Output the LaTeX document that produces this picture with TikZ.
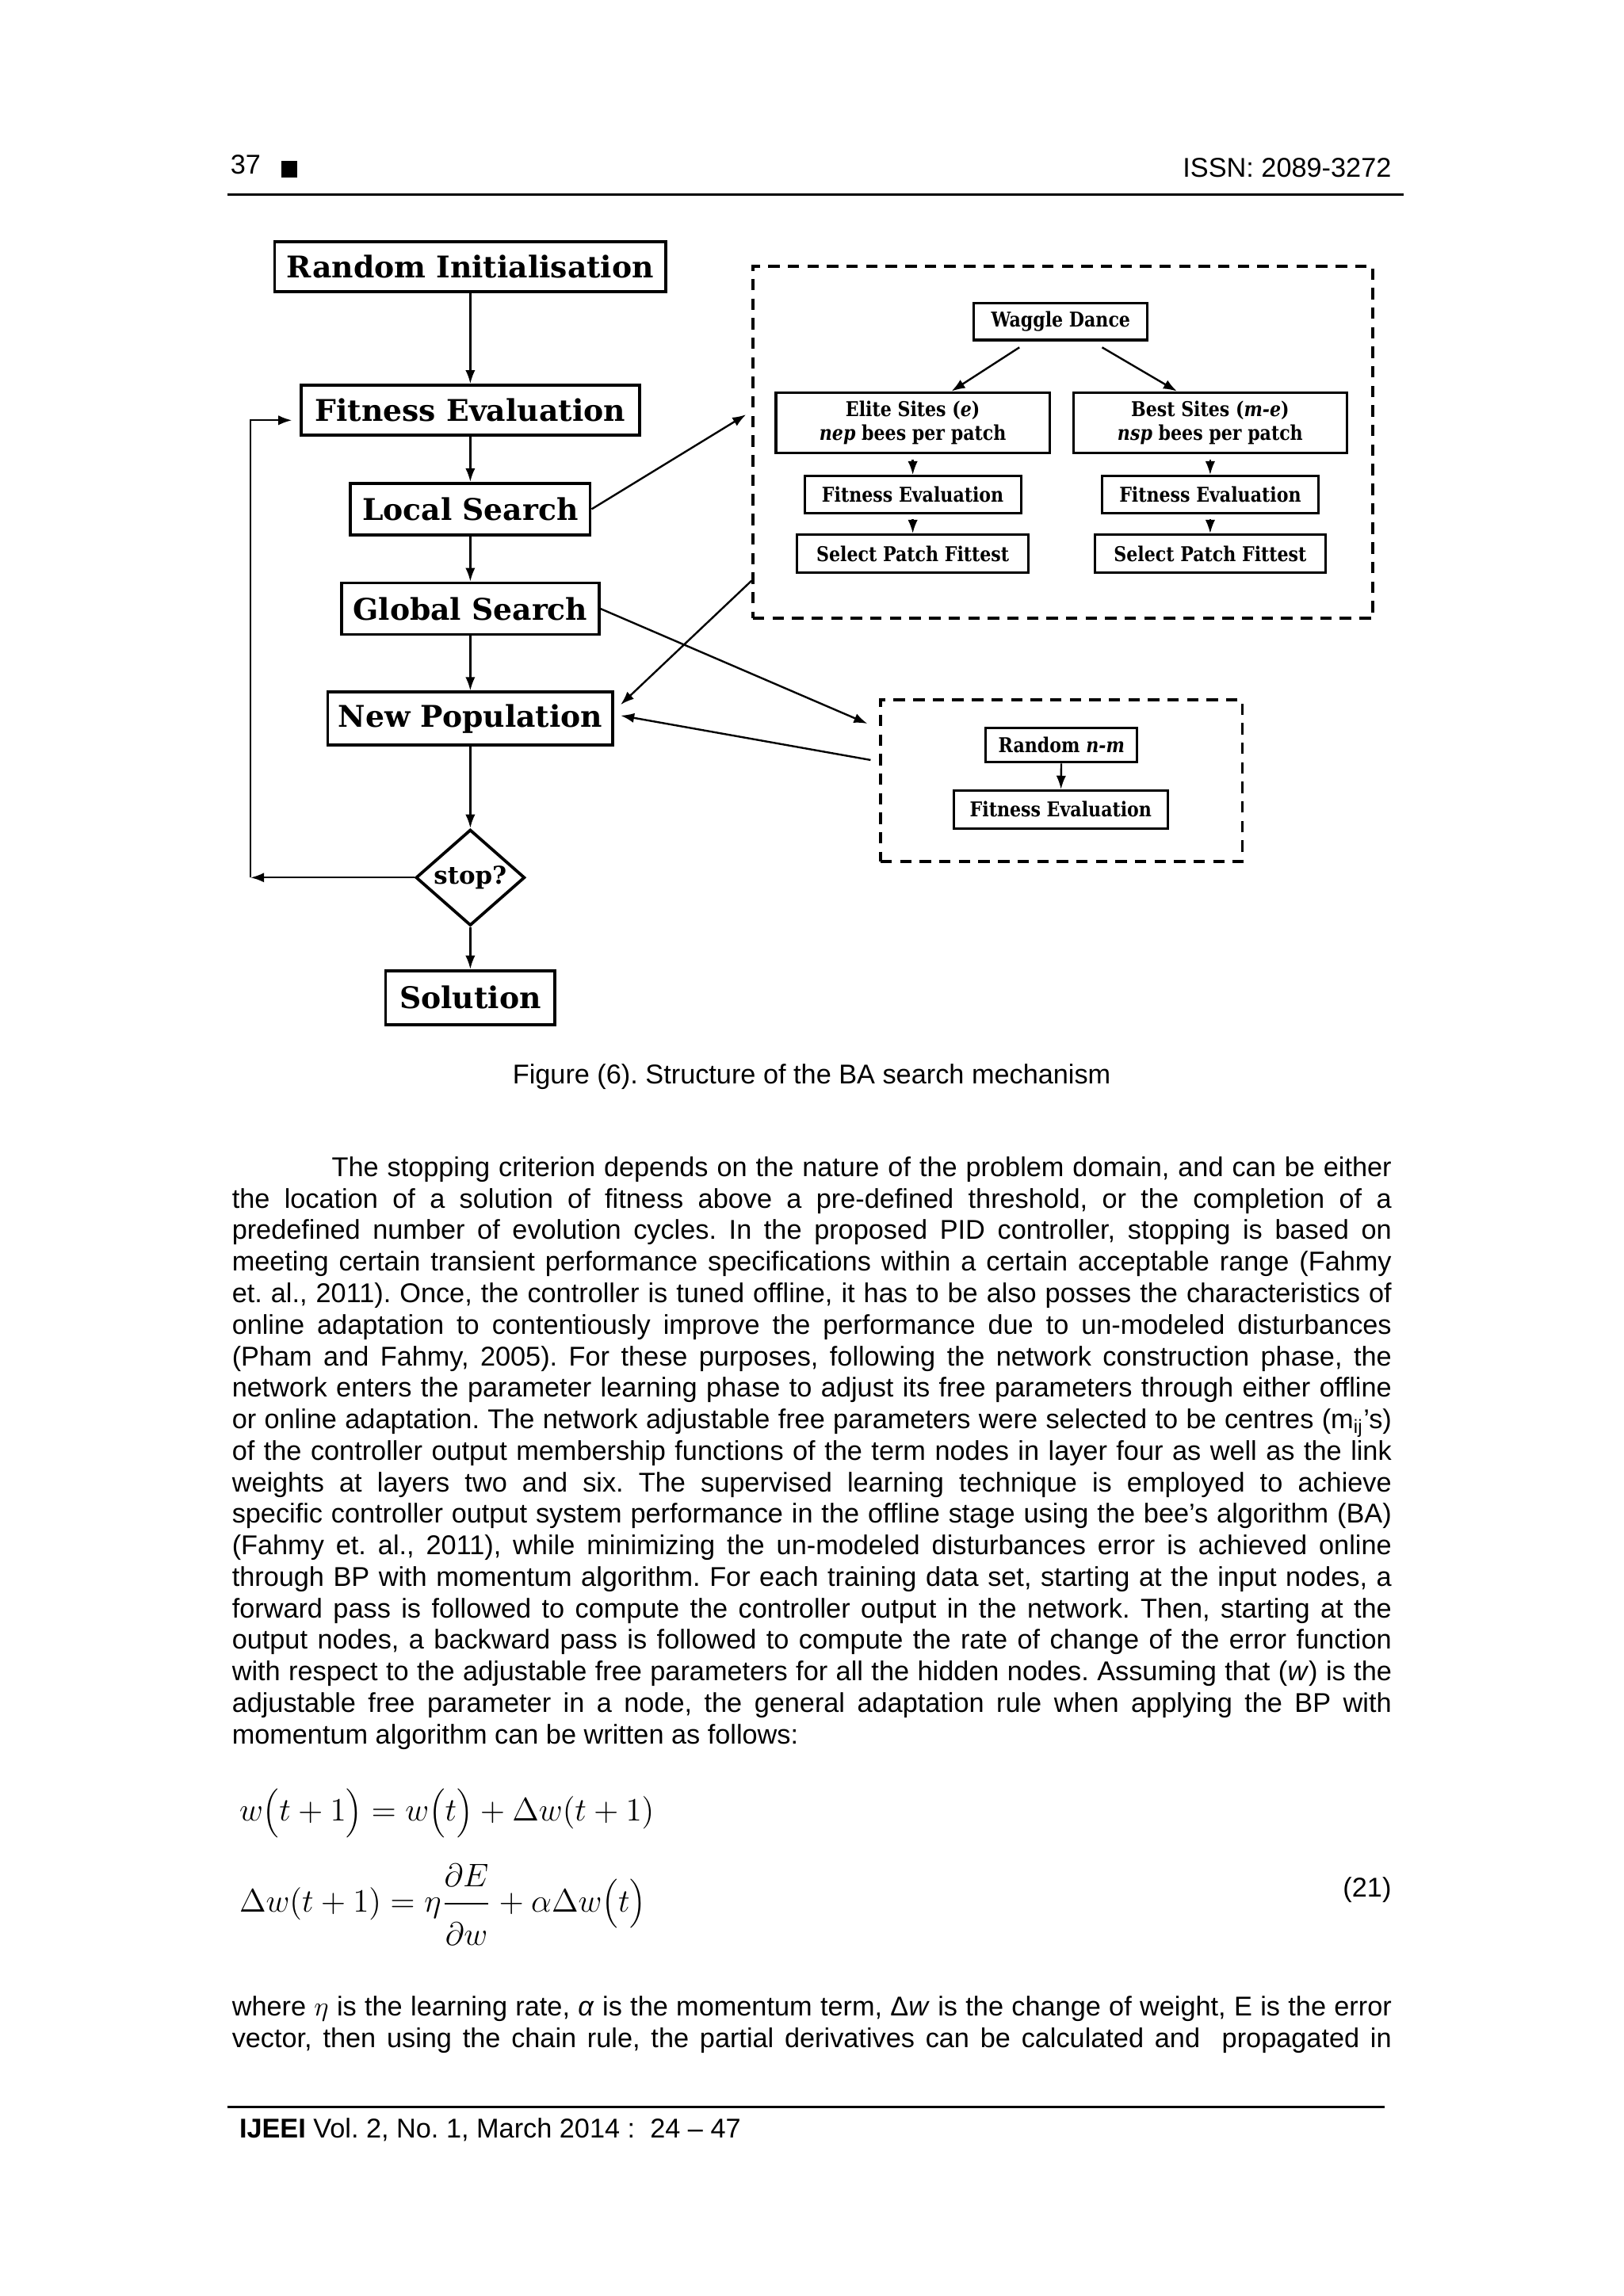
\documentclass[tikz,border=0pt]{standalone}
\usepackage{fontspec}
\setmainfont{Liberation Sans}
\newfontfamily\boxfont{DejaVu Serif}
\newfontfamily\innerfont[FakeStretch=0.86]{DejaVu Serif}
\usetikzlibrary{shapes.geometric,arrows.meta}
\frenchspacing

\tikzset{
  mainbox/.style={draw, line width=1.1pt, inner sep=0pt, font=\boxfont\bfseries\fontsize{11}{13}\selectfont},
  innerbox/.style={draw, line width=0.9pt, inner sep=0pt, minimum height=0.476cm, align=center,
    font=\innerfont\bfseries\fontsize{7.5}{8.6}\selectfont},
  dashbox/.style={draw, line width=1.1pt, dash pattern=on 4.2pt off 3pt},
  flow/.style={-{Latex[length=5pt,width=3.6pt]}, line width=0.7pt},
  bodytext/.style={inner sep=0pt, font=\fontsize{10}{11.6}\selectfont\frenchspacing}
}

\begin{document}
\begin{tikzpicture}[x=0.01895cm, y=-0.01895cm]
\fill[white] (0cm,0cm) rectangle (21cm,-29.7cm);
\useasboundingbox (0cm,0cm) rectangle (21cm,-29.7cm);

% Header
\node[bodytext, anchor=base west] (pagenum) at (157,119) {37};
\fill (192,110) rectangle (203,121);
\node[bodytext, anchor=base east] (issn) at (950,121) {ISSN: 2089-3272};
\draw[line width=0.9pt] (155,133) -- (958,133);

% Main loop
\node[mainbox, minimum width=5.06cm, minimum height=0.647cm] (init) at (321,182) {Random Initialisation};
\node[mainbox, minimum width=4.375cm, minimum height=0.647cm] (fitness) at (321,280) {Fitness Evaluation};
\node[mainbox, minimum width=3.10cm, minimum height=0.666cm] (localsearch) at (321,347.5) {Local Search};
\node[mainbox, minimum width=3.33cm, minimum height=0.666cm] (globalsearch) at (321,415.5) {Global Search};
\node[mainbox, minimum width=3.69cm, minimum height=0.685cm] (newpop) at (321,490.5) {New Population};
\node[diamond, draw, line width=1.1pt, inner sep=0pt, minimum width=1.41cm, minimum height=1.16cm,
  font=\boxfont\bfseries\fontsize{9}{11}\selectfont] (stop) at (321,599) {stop?};
\node[mainbox, minimum width=2.19cm, minimum height=0.70cm] (solution) at (321,681) {Solution};
\coordinate (back) at (171,599);

\draw[flow] (init) -- (fitness);
\draw[flow] (fitness) -- (localsearch);
\draw[flow] (localsearch) -- (globalsearch);
\draw[flow] (globalsearch) -- (newpop);
\draw[flow] (newpop) -- (stop);
\draw[flow] (stop) -- (solution);
\draw[flow] (stop.west) -- (back);
\draw[flow] (back) |- ([xshift=-0.1cm,yshift=-0.13cm]fitness.west);

% Local search block
\node[dashbox, minimum width=8.02cm, minimum height=4.55cm] (lsbox) at (725.5,302) {};
\node[innerbox, minimum width=2.245cm] (waggle) at (724,219.5) {Waggle Dance};
\node[innerbox, minimum width=3.54cm, minimum height=0.78cm] (elite) at (623,288.5)
  {Elite Sites (\textit{e})\\\textit{nep} bees per patch};
\node[innerbox, minimum width=3.54cm, minimum height=0.78cm] (best) at (826,288.5)
  {Best Sites (\textit{m-e})\\\textit{nsp} bees per patch};
\node[innerbox, minimum width=2.80cm] (fitl) at (623,337.5) {Fitness Evaluation};
\node[innerbox, minimum width=2.80cm] (fitr) at (826,337.5) {Fitness Evaluation};
\node[innerbox, minimum width=2.99cm, minimum height=0.495cm] (patchl) at (623,378) {Select Patch Fittest};
\node[innerbox, minimum width=2.99cm, minimum height=0.495cm] (patchr) at (826,378) {Select Patch Fittest};

\draw[flow] ([xshift=-0.535cm,yshift=-0.08cm]waggle.south) -- ([xshift=0.5cm]elite.north);
\draw[flow] ([xshift=0.535cm,yshift=-0.08cm]waggle.south) -- ([xshift=-0.43cm]best.north);
\draw[flow] ([yshift=-0.07cm]elite.south) -- (fitl.north);
\draw[flow] ([yshift=-0.07cm]best.south) -- (fitr.north);
\draw[flow] ([yshift=-0.07cm]fitl.south) -- (patchl.north);
\draw[flow] ([yshift=-0.07cm]fitr.south) -- (patchr.north);

% Global search block
\node[dashbox, minimum width=4.68cm, minimum height=2.09cm] (gsbox) at (724.5,533) {};
\node[innerbox, minimum width=1.96cm, minimum height=0.45cm] (randnm) at (724.5,508.5) {Random \textit{n-m}};
\node[innerbox, minimum width=2.77cm, minimum height=0.49cm] (fitg) at (724,552.5) {Fitness Evaluation};
\draw[flow] (randnm) -- (fitg);

% Links between blocks
\draw[flow] (localsearch.east) -- ([xshift=-0.07cm,yshift=0.36cm]lsbox.west);
\draw[flow] ([yshift=-1.79cm]lsbox.west) -- ([xshift=0.08cm,yshift=0.18cm]newpop.east);
\draw[flow] (globalsearch.east) -- ([xshift=-0.15cm,yshift=0.74cm]gsbox.west);
\draw[flow] ([xshift=-0.11cm,yshift=0.27cm]gsbox.west) -- ([xshift=0.08cm,yshift=0.04cm]newpop.east);

% Caption and text
\node[bodytext, anchor=base] (caption) at (554,740) {Figure (6). Structure of the BA search mechanism};

\node[bodytext, anchor=base west, text width=15.0cm, align=justify] (para) at (158,803) {%
\hspace*{1.29cm}The stopping criterion depends on the nature of the problem domain, and can be either\linebreak
the location of a solution of fitness above a pre-defined threshold, or the completion of a\linebreak
predefined number of evolution cycles. In the proposed PID controller, stopping is based on\linebreak
meeting certain transient performance specifications within a certain acceptable range (Fahmy\linebreak
et. al., 2011). Once, the controller is tuned offline, it has to be also posses the characteristics of\linebreak
online adaptation to contentiously improve the performance due to un-modeled disturbances\linebreak
(Pham and Fahmy, 2005). For these purposes, following the network construction phase, the\linebreak
network enters the parameter learning phase to adjust its free parameters through either offline\linebreak
or online adaptation. The network adjustable free parameters were selected to be centres (m\textsubscript{ij}’s)\linebreak
of the controller output membership functions of the term nodes in layer four as well as the link\linebreak
weights at layers two and six. The supervised learning technique is employed to achieve\linebreak
specific controller output system performance in the offline stage using the bee’s algorithm (BA)\linebreak
(Fahmy et. al., 2011), while minimizing the un-modeled disturbances error is achieved online\linebreak
through BP with momentum algorithm. For each training data set, starting at the input nodes, a\linebreak
forward pass is followed to compute the controller output in the network. Then, starting at the\linebreak
output nodes, a backward pass is followed to compute the rate of change of the error function\linebreak
with respect to the adjustable free parameters for all the hidden nodes. Assuming that (\textit{w}) is the\linebreak
adjustable free parameter in a node, the general adaptation rule when applying the BP with\linebreak
momentum algorithm can be written as follows:};

% Equations
\node[anchor=base west, inner sep=0pt, font=\fontsize{13}{15}\selectfont] (eqone) at (163,1243)
  {$w\Bigl(t+1\Bigr)=w\Bigl(t\Bigr)+\Delta w(t+1)$};
\node[anchor=base west, inner sep=0pt, font=\fontsize{13}{15}\selectfont] (eqtwo) at (163,1305)
  {$\displaystyle \Delta w(t+1)=\eta\frac{\partial E\rule[-5pt]{0pt}{5pt}}{\partial w\rule{0pt}{14pt}}+\alpha\Delta w\Bigl(t\Bigr)$};
\node[bodytext, anchor=base east] (eqnum) at (950,1295) {(21)};

\node[bodytext, anchor=base west, text width=15.0cm, align=justify] (where) at (158,1376) {%
where $\eta$ is the learning rate, \textit{α} is the momentum term, Δ\textit{w} is the change of weight, E is the error\linebreak
vector, then using the chain rule, the partial derivatives can be calculated and\ \ propagated in\linebreak};

% Footer
\draw[line width=0.9pt] (155,1438) -- (945,1438);
\node[bodytext, anchor=base west] (footer) at (163,1459) {\textbf{IJEEI} Vol. 2, No. 1, March 2014 :\ \ 24 – 47};
\end{tikzpicture}
\end{document}
